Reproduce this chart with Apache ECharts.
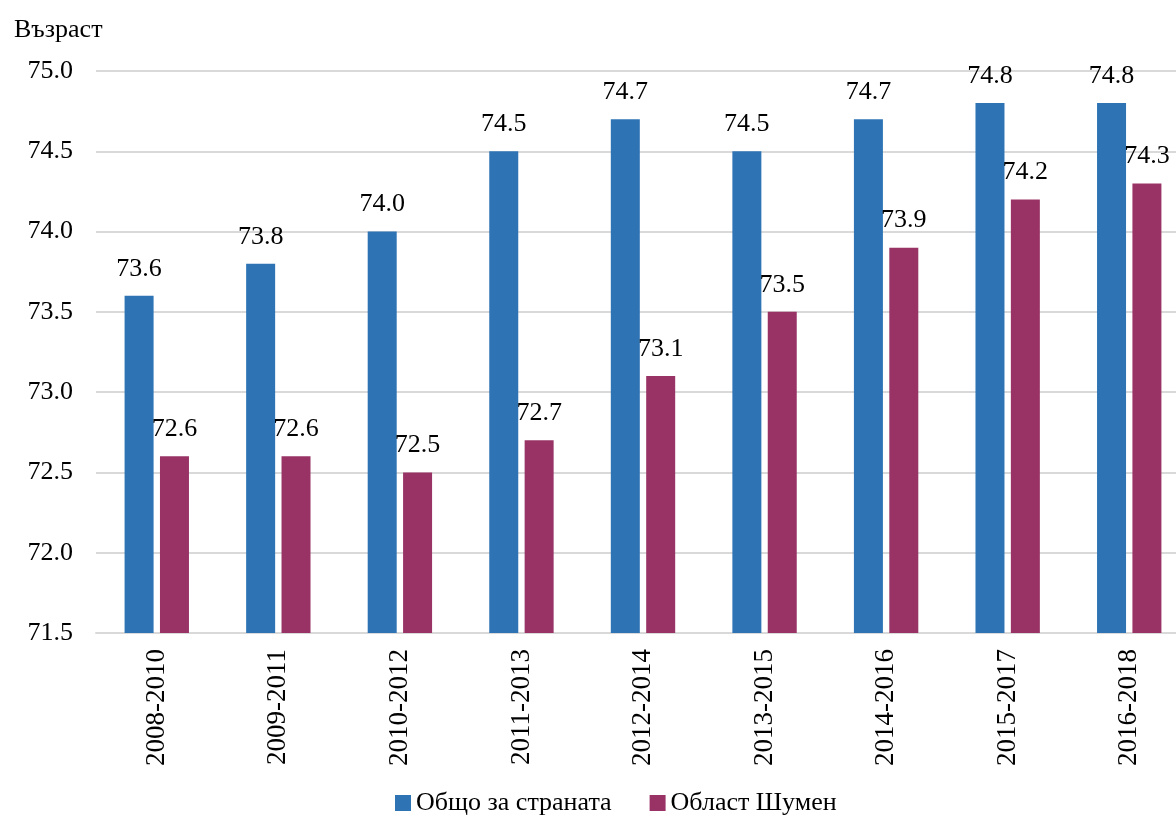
<!DOCTYPE html>
<html><head><meta charset="utf-8">
<script src="https://cdn.jsdelivr.net/npm/echarts@6/dist/echarts.min.js"></script>
<style>html,body{margin:0;padding:0;background:#fff;overflow:hidden}#c{width:1190px;height:817px}</style>
</head><body><div id="c"></div>
<script>
const categories = ['2008-2010','2009-2011','2010-2012','2011-2013','2012-2014','2013-2015','2014-2016','2015-2017','2016-2018'];
const national = [73.6, 73.8, 74.0, 74.5, 74.7, 74.5, 74.7, 74.8, 74.8];
const shumen = [72.6, 72.6, 72.5, 72.7, 73.1, 73.5, 73.9, 74.2, 74.3];
const seriesNames = ['Общо за страната', 'Област Шумен'];
const yTitle = 'Възраст';

const font = "'Liberation Serif', 'Times New Roman', serif";
const chart = echarts.init(document.getElementById('c'));
const lbl = {show:true, position:'top', distance:14, fontFamily:font, fontSize:26, color:'#000', formatter: p => p.value.toFixed(1)};
chart.setOption({
  animation:false,
  textStyle:{fontFamily:font},
  title:{text:yTitle, left:9, top:12, textStyle:{fontFamily:font, fontSize:26, fontWeight:'normal', color:'#000'}},
  legend:{bottom:-4, left:390, itemWidth:16, itemHeight:16, itemGap:38, icon:'rect',
    textStyle:{fontFamily:font, fontSize:26, color:'#000'}, data:seriesNames},
  grid:{left:96, top:71, width:1094, height:562, containLabel:false},
  xAxis:{type:'category', data:categories,
    axisLine:{lineStyle:{color:'#d9d9d9', width:2}}, axisTick:{show:false},
    axisLabel:{rotate:90, fontFamily:font, fontSize:27, color:'#000', margin:16, interval:0}},
  yAxis:{type:'value', min:71.5, max:75, interval:0.5,
    axisLine:{show:false}, axisTick:{show:false},
    splitLine:{lineStyle:{color:'#d9d9d9', width:2}},
    axisLabel:{fontFamily:font, fontSize:26, color:'#000', margin:23, formatter: v => v.toFixed(1)}},
  series:[
    {name:seriesNames[0], type:'bar', data:national, barWidth:29, barGap:'22%', itemStyle:{color:'#2E74B5'}, label:lbl},
    {name:seriesNames[1], type:'bar', data:shumen, barWidth:29, itemStyle:{color:'#993366'}, label:lbl}
  ]
});
</script></body></html>
